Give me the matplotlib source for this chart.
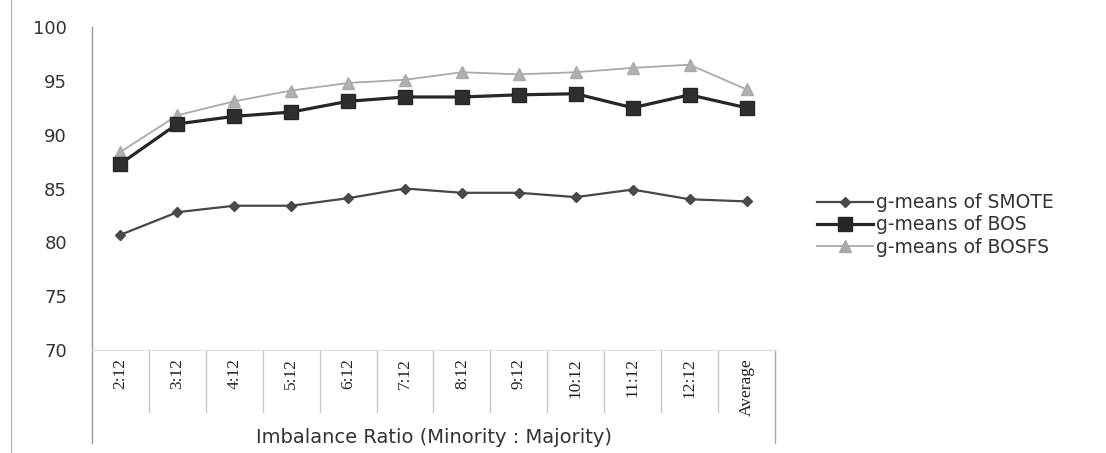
import matplotlib
matplotlib.use("Agg")
import matplotlib.pyplot as plt
from matplotlib.lines import Line2D

categories = ["2:12", "3:12", "4:12", "5:12", "6:12", "7:12", "8:12", "9:12",
              "10:12", "11:12", "12:12", "Average"]
smote = [80.7, 82.8, 83.4, 83.4, 84.1, 85.0, 84.6, 84.6, 84.2, 84.9, 84.0, 83.8]
bos = [87.3, 91.0, 91.7, 92.1, 93.1, 93.5, 93.5, 93.7, 93.8, 92.5, 93.7, 92.5]
bosfs = [88.4, 91.8, 93.1, 94.1, 94.8, 95.1, 95.8, 95.6, 95.8, 96.2, 96.5, 94.2]
yticks = [70, 75, 80, 85, 90, 95, 100]
series_names = ["g-means of SMOTE", "g-means of BOS", "g-means of BOSFS"]
xlabel = "Imbalance Ratio (Minority : Majority)"

W, H = 1106, 453
fig = plt.figure(figsize=(W / 100, H / 100), dpi=100)
left, right, top, bottom = 92, 775, 27, 350
ax = fig.add_axes([left / W, (H - bottom) / H, (right - left) / W, (bottom - top) / H])

x = list(range(len(categories)))
ax.plot(x, bosfs, color="#a9a9a9", lw=1.3, marker="^", ms=8, mec="#a9a9a9", mfc="#b0b0b0",
        label=series_names[2], zorder=2)
ax.plot(x, bos, color="#262626", lw=2.3, marker="s", ms=10, mec="#262626", mfc="#2e2e2e",
        label=series_names[1], zorder=3)
ax.plot(x, smote, color="#474747", lw=1.6, marker="D", ms=5.5, mec="#474747", mfc="#4a4a4a",
        label=series_names[0], zorder=3)

ax.set_xlim(-0.5, len(categories) - 0.5)
ax.set_ylim(70, 100)
ax.set_yticks(yticks)
ax.set_yticklabels([str(v) for v in yticks], fontsize=13, color="#333333")
ax.tick_params(axis="y", length=0, pad=18)
ax.set_xticks([])

for s in ["top", "right"]:
    ax.spines[s].set_visible(False)
ax.spines["bottom"].set_color("#dddddd")
ax.spines["bottom"].set_linewidth(0.8)
ax.spines["left"].set_visible(False)

tr = ax.get_xaxis_transform()
ax.plot([-0.5, -0.5], [1.0, -0.288], transform=tr, color="#999999", lw=1.0, clip_on=False)
ax.plot([len(categories) - 0.5] * 2, [0.0, -0.288], transform=tr, color="#aaaaaa", lw=1.0,
        clip_on=False)
for i in range(1, len(categories)):
    ax.plot([i - 0.5, i - 0.5], [0.0, -0.192], transform=tr, color="#c8c8c8", lw=1.0,
            clip_on=False)

for i, c in enumerate(categories):
    ax.text(i, -0.025, c, transform=tr, rotation=90, ha="center", va="top",
            fontsize=12.5, family="Liberation Serif", color="#222222")

ax.text(0.5, -0.27, xlabel, transform=ax.transAxes, ha="center", va="center",
        fontsize=14, color="#333333")

handles = [
    Line2D([], [], color="#474747", lw=1.6, marker="D", ms=5.5),
    Line2D([], [], color="#262626", lw=2.3, marker="s", ms=10),
    Line2D([], [], color="#a9a9a9", lw=1.3, marker="^", ms=8),
]
fig.legend(handles, series_names, loc="center left",
           bbox_to_anchor=(800 / W, (H - 225) / H), frameon=False, fontsize=13.5,
           handlelength=3.0, handletextpad=0.15, labelspacing=0.18, labelcolor="#333333")

fig.add_artist(Line2D([11 / W, 11 / W], [0.0, 1.0], color="#bbbbbb", lw=1.0))

fig.savefig("out.png", dpi=100, facecolor="white")
